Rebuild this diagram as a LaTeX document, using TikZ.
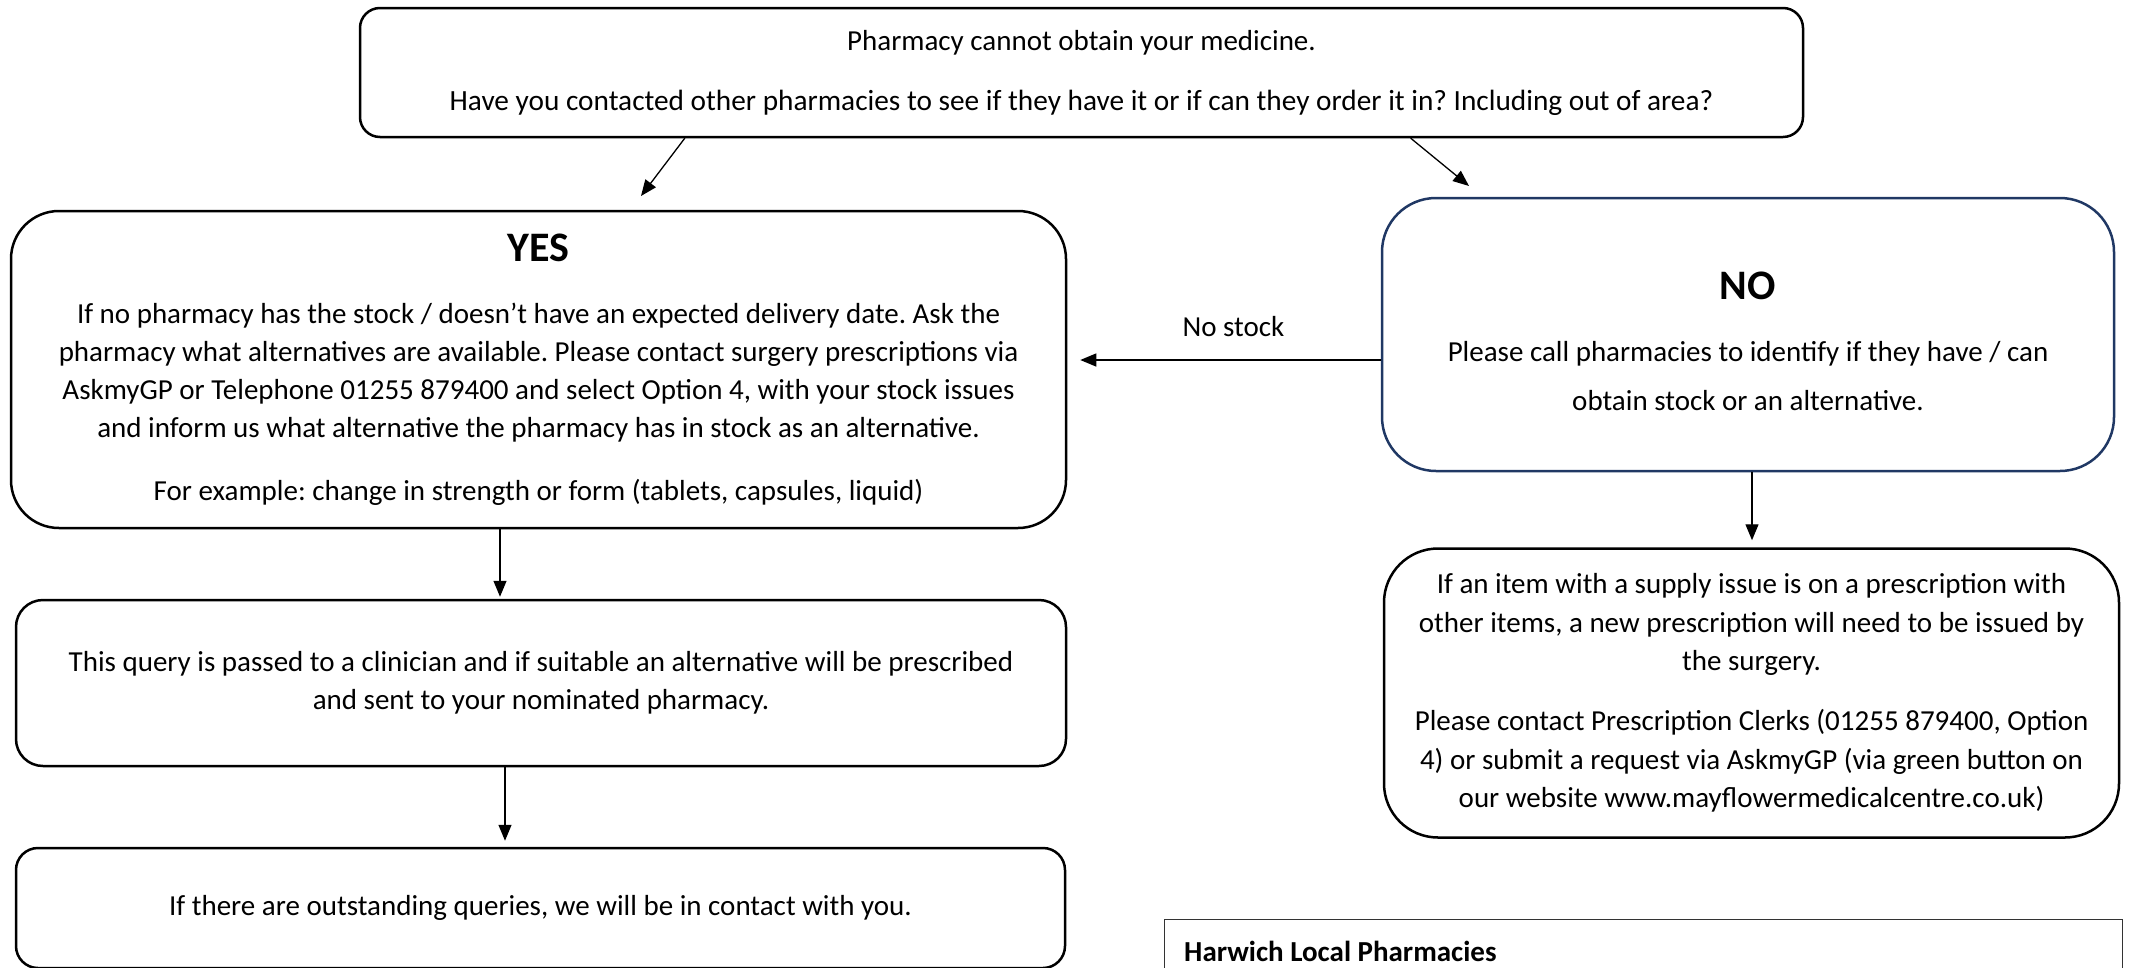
\documentclass[tikz,border=0pt]{standalone}
\usepackage{fontspec}
\setmainfont{Carlito}
\usepackage{xcolor}
\usetikzlibrary{arrows.meta, calc}
\definecolor{noNavy}{RGB}{32,56,100}
\frenchspacing
\begin{document}
\begin{tikzpicture}[x=1pt, y=-1pt, style={line cap=round},
    box/.style={draw=black, line width=2.5pt, rounded corners=#1, align=center, inner sep=0pt,
      font=\fontsize{29}{38}\selectfont},
    box/.default=24pt,
    flow/.style={line width=1.3pt, -{Triangle[length=16pt, width=13pt]}},
    headtxt/.style={font=\fontsize{42}{44}\selectfont\bfseries}]
  \useasboundingbox (0,0) rectangle (2129,967);
  \clip (0,0) rectangle (2129,967);
  % question at the top
  \node[box=20pt, minimum width=1443pt, minimum height=129pt] (top) at (1081.5,72.5)
    {Pharmacy cannot obtain your medicine.\\[22pt]
     {\fontsize{29.3}{38}\selectfont Have you contacted other pharmacies to see if they have it or if can they order it in? Including out of area?}};
  % left branch
  \node[box=48pt, minimum width=1055pt, minimum height=317pt] (yes) at (538.5,369.5)
    {{\fontsize{42}{44}\selectfont\bfseries YES}\\[24pt]
     If no pharmacy has the stock / doesn’t have an expected delivery date. Ask the\\
     pharmacy what alternatives are available. Please contact surgery prescriptions via\\
     AskmyGP or Telephone 01255 879400 and select Option 4, with your stock issues\\
     and inform us what alternative the pharmacy has in stock as an alternative.\\[25pt]
     For example: change in strength or form (tablets, capsules, liquid)};
  \node[box=27pt, minimum width=1050pt, minimum height=166pt] (clin) at (541,683)
    {This query is passed to a clinician and if suitable an alternative will be prescribed\\
     and sent to your nominated pharmacy.};
  \node[box=22pt, minimum width=1049pt, minimum height=120pt] (outst) at (540.5,908)
    {If there are outstanding queries, we will be in contact with you.};
  % right branch
  \node[box=54pt, draw=noNavy, minimum width=732pt, minimum height=273pt, font=\fontsize{29}{49}\selectfont] (no) at (1748,334.5)
    {\rule{0pt}{41pt}{\fontsize{42}{44}\selectfont\bfseries NO}\\[13pt]
     Please call pharmacies to identify if they have / can\\
     obtain stock or an alternative.};
  \node[box=54pt, minimum width=735pt, minimum height=289pt, font=\fontsize{29}{38.6}\selectfont] (item) at (1751.5,693)
    {If an item with a supply issue is on a prescription with\\
     other items, a new prescription will need to be issued by\\
     the surgery.\\[21pt]
     Please contact Prescription Clerks (01255 879400, Option\\
     4) or submit a request via AskmyGP (via green button on\\
     our website www.mayflowermedicalcentre.co.uk)};
  \node[draw=black!80, line width=1.3pt, anchor=north west, minimum width=958pt, minimum height=100pt] (harwich) at (1164,919) {};
  \node[anchor=west, inner sep=0pt, font=\fontsize{29}{30}\selectfont\bfseries] (harwichtxt) at ($(harwich.north west)+(20,32)$) {Harwich Local Pharmacies};
  % connectors
  \coordinate (yesTip) at (641,196);
  \coordinate (noTip) at (1469,186);
  \draw[flow] ($(top.south west)+(326,0)$) -- (yesTip);
  \draw[flow] ($(top.south west)+(1052,0)$) -- (noTip);
  \draw[flow] ($(no.west)+(0,25.5)$) -- ($(yes.east)+(13,-9.5)$)
    node[midway, above=19pt, xshift=3pt, font=\fontsize{29}{30}\selectfont] (nostock) {No stock};
  \draw[flow] ($(yes.south)+(-38.5,0)$) -- ($(clin.north)+(-41,-2)$);
  \draw[flow] ($(clin.south)+(-36,0)$) -- ($(outst.north)+(-35.5,-6)$);
  \draw[flow] ($(no.south)+(4,0)$) -- ($(item.north)+(0.5,-7)$);
\end{tikzpicture}
\end{document}
